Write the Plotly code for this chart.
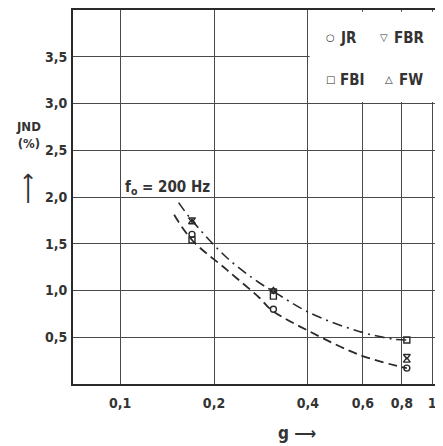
import plotly.graph_objects as go

# ---- data ----
g_meas = [0.17, 0.31, 0.83]
jnd_JR = [1.60, 0.80, 0.17]
jnd_FBR = [1.76, 1.00, 0.30]
jnd_FBI = [1.54, 0.94, 0.47]
jnd_FW = [1.73, 1.00, 0.25]

g_upper = [0.154, 0.17, 0.22, 0.28, 0.31, 0.406, 0.587, 0.75, 0.83]
jnd_upper = [1.94, 1.75, 1.35, 1.08, 0.99, 0.76, 0.56, 0.48, 0.47]
g_lower = [0.149, 0.17, 0.22, 0.28, 0.306, 0.406, 0.587, 0.79, 0.83]
jnd_lower = [1.81, 1.54, 1.22, 0.92, 0.79, 0.56, 0.31, 0.185, 0.17]

x_ticks = [0.1, 0.2, 0.4, 0.6, 0.8, 1.0]
x_ticktext = ["0,1", "0,2", "0,4", "0,6", "0,8", "1"]
y_ticks = [0.5, 1.0, 1.5, 2.0, 2.5, 3.0, 3.5]
y_ticktext = ["0,5", "1,0", "1,5", "2,0", "2,5", "3,0", "3,5"]

INK = "#2a2a2a"
TXT = "#333333"
FONT = "DejaVu Sans Condensed, DejaVu Sans"

OFF = 8  # default page margin around the figure
W, H = 443 - OFF, 446 - OFF
L, T = 73 - OFF, 10 - OFF
PW, PH = 370, 374
R, B = W - L - PW, H - T - PH


def px(xp):
    return (xp - OFF - L) / PW


def py(yp):
    return (T + PH - (yp - OFF)) / PH


fig = go.Figure()

fig.add_trace(go.Scatter(x=g_upper, y=jnd_upper, mode="lines", line_shape="spline",
                         line=dict(color=INK, width=1.6, dash="10px,5px,2px,5px"),
                         showlegend=False, hoverinfo="skip"))
fig.add_trace(go.Scatter(x=g_lower, y=jnd_lower, mode="lines", line_shape="spline",
                         line=dict(color=INK, width=1.8, dash="9px,5px"),
                         showlegend=False, hoverinfo="skip"))

for name, vals, sym in [("FBI", jnd_FBI, "square-open"),
                        ("JR", jnd_JR, "circle-open"),
                        ("FW", jnd_FW, "triangle-up-open"),
                        ("FBR", jnd_FBR, "triangle-down-open")]:
    fig.add_trace(go.Scatter(x=g_meas, y=vals, mode="markers", name=name,
                             marker=dict(symbol=sym, size=6, color=INK,
                                         line=dict(color=INK, width=1.4)),
                             showlegend=False))

tick_font = dict(family=FONT, size=14, color=TXT, weight="bold")
axis_common = dict(showgrid=True, gridcolor="#4a4a4a", gridwidth=1,
                   zeroline=False, ticks="", automargin=False,
                   tickfont=tick_font)

fig.update_xaxes(type="log", range=[-1.151, 0.035], tickvals=x_ticks,
                 ticktext=x_ticktext, showline=True, linecolor=INK, linewidth=2,
                 mirror=True, ticklabelstandoff=5, **axis_common)
fig.update_yaxes(range=[0, 4.0], tickvals=y_ticks, ticktext=y_ticktext,
                 showline=True, linecolor=INK, linewidth=2, mirror=False,
                 ticklabelstandoff=1, **axis_common)

# white legend box in top-right corner (hides grid there)
fig.add_shape(type="rect", xref="x", yref="y", x0=0.405, x1=1.2, y0=3.015, y1=3.98,
              fillcolor="white", line_width=0, layer="between")

ann = []
leg_font = dict(family=FONT, size=15, color=TXT, weight="bold")
sym_font = dict(family="DejaVu Sans", size=10, color=TXT, weight="bold")
for sym, sx, label, lx, yy in [("○", 330, "JR", 338, 38),
                               ("▽", 384, "FBR", 392, 38),
                               ("□", 330, "FBI", 338, 80),
                               ("△", 389, "FW", 397, 80)]:
    ann.append(dict(x=px(sx), y=py(yy), xref="paper", yref="paper", text=sym,
                    showarrow=False, xanchor="center", yanchor="middle", font=sym_font))
    ann.append(dict(x=px(lx), y=py(yy), xref="paper", yref="paper", text=label,
                    showarrow=False, xanchor="left", yanchor="middle", font=leg_font))

ann.append(dict(x=px(167), y=py(187), xref="paper", yref="paper",
                text="f<sub>o</sub> = 200 Hz", showarrow=False,
                xanchor="center", yanchor="middle",
                font=dict(family=FONT, size=15, color=TXT, weight="bold")))
ann.append(dict(x=px(28), y=py(135), xref="paper", yref="paper",
                text="JND<br>(%)", showarrow=False, xanchor="center", yanchor="middle",
                font=dict(family=FONT, size=13, color=TXT, weight="bold")))
ann.append(dict(x=px(27), y=py(188), xref="paper", yref="paper",
                text="⟶", textangle=-90, showarrow=False,
                xanchor="center", yanchor="middle",
                font=dict(family="DejaVu Sans", size=22, color=TXT)))
ann.append(dict(x=px(297), y=py(433), xref="paper", yref="paper",
                text="g ⟶", showarrow=False, xanchor="center", yanchor="middle",
                font=dict(family=FONT, size=17, color=TXT, weight="bold")))

fig.update_layout(width=W, height=H, margin=dict(l=L, r=R, t=T, b=B),
                  paper_bgcolor="white", plot_bgcolor="white",
                  annotations=ann, showlegend=False)

fig.write_html("out.html")
